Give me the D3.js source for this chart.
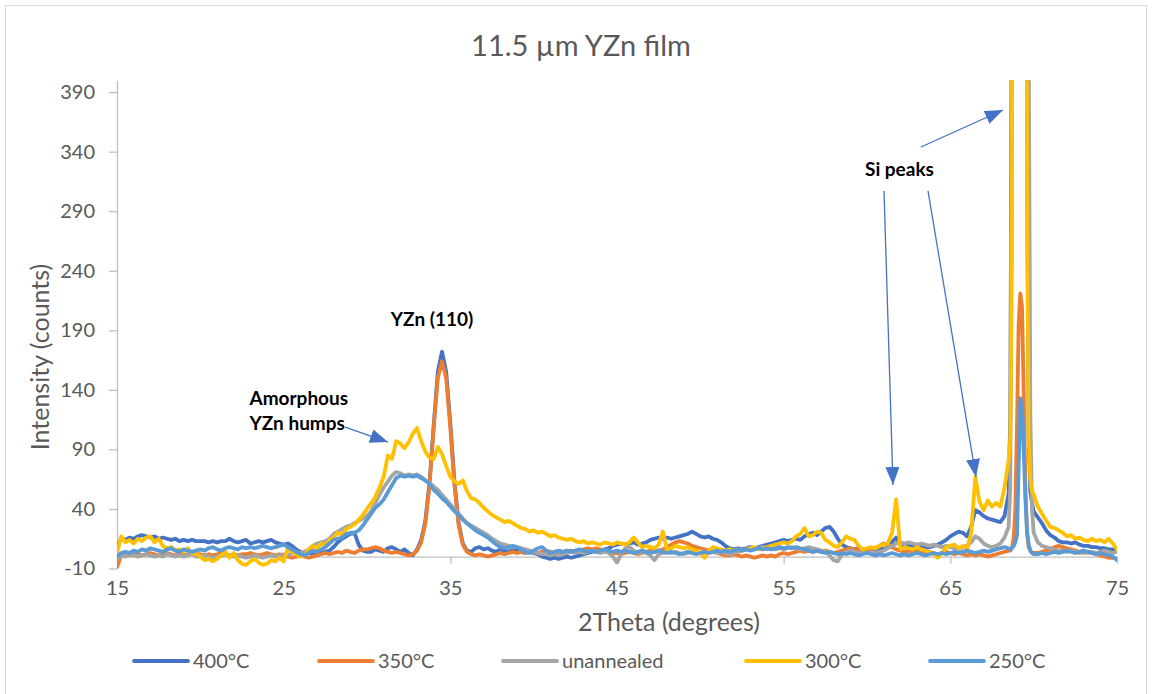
<!DOCTYPE html>
<html>
<head>
<meta charset="utf-8">
<script src="https://cdn.jsdelivr.net/npm/d3@7"></script>
<style>
  body { margin: 0; background: #fff; }
  svg { display: block; font-family: Lato, "Open Sans", sans-serif; }
</style>
</head>
<body>
<svg id="chart" width="1153" height="694"></svg>
<script>
// scan grid: 0.25 deg steps, finer around the Si (400) reflection
const twoTheta = [
  ...d3.range(15, 68.5 + 1e-9, 0.25),
  ...d3.range(68.6, 70 + 1e-9, 0.1),
  ...d3.range(70.25, 75 + 1e-9, 0.25)
].map(v => +v.toFixed(2));

const seriesNames = ["400°C", "350°C", "unannealed", "300°C", "250°C"];
const seriesColors = ["#4472C4", "#ED7D31", "#A5A5A5", "#FFC000", "#5B9BD5"];

const counts400 = [
  8, 15, 14, 16, 15, 17, 18, 17, 16, 17, 15, 16, 15, 14, 15, 13, 14, 13, 14, 13,
  13, 13, 12, 13, 12, 13, 13, 15, 13, 12, 13, 14, 11, 12, 13, 12, 13, 14, 12, 11,
  10, 11, 9, 6, 4, 3, 3, 2, 3, 3, 4, 5, 8, 12, 15, 17, 19, 20, 10, 5,
  4, 4, 6, 5, 4, 7, 8, 6, 4, 6, 3, 1, 6, 14, 30, 62, 110, 155, 172, 155,
  112, 62, 28, 11, 5, 4, 7, 8, 6, 7, 5, 4, 6, 5, 4, 6, 5, 4, 3, 4,
  3, 2, 0, -1, -2, -1, -2, -1, 0, -1, 0, 1, 2, 3, 4, 5, 4, 6, 7, 9,
  10, 11, 10, 11, 12, 10, 11, 12, 14, 15, 16, 15, 16, 15, 16, 17, 18, 19, 21, 19,
  17, 16, 17, 15, 14, 12, 9, 7, 6, 7, 6, 7, 8, 7, 8, 9, 10, 11, 12, 13,
  14, 13, 14, 15, 14, 17, 19, 20, 18, 21, 24, 25, 21, 15, 10, 8, 7, 6, 7, 6,
  5, 6, 5, 7, 6, 8, 12, 16, 10, 8, 9, 8, 9, 8, 7, 8, 9, 10, 12, 14,
  17, 19, 21, 20, 17, 25, 39, 37, 34, 32, 31, 30, 29, 34, 53,
  120, 500, 3000, 9000, 16000, 20000, 20000, 15000, 9000, 2500, 350, 100, 55, 45, 38,
  33, 28, 22, 18, 16, 13, 12, 12, 11, 12, 10, 9, 9, 8, 8, 7, 7, 6, 6, 5
];

const counts350 = [
  -9, 1, 2, 1, 3, 2, 1, 2, 3, 2, 1, 2, 3, 2, 1, 2, 1, 2, 3, 2,
  2, 1, 2, 1, 2, 3, 2, 1, 2, 1, 2, 2, 3, 2, 1, 2, 3, 2, 1, 2,
  1, 0, -1, 0, 1, 0, -1, 0, 1, 2, 3, 2, 3, 4, 3, 5, 4, 3, 5, 6,
  6, 7, 8, 7, 5, 4, 3, 4, 3, 2, 1, 2, 5, 12, 28, 60, 108, 150, 164, 150,
  108, 60, 26, 10, 4, 2, 1, 2, 1, 0, 1, 2, 3, 2, 3, 4, 3, 4, 3, 4,
  4, 3, 4, 5, 4, 3, 4, 3, 4, 5, 4, 5, 6, 7, 6, 7, 6, 5, 4, 3,
  3, 2, 3, 4, 3, 2, 3, 4, 5, 4, 5, 6, 8, 10, 12, 13, 12, 11, 9, 8,
  7, 6, 5, 4, 3, 2, 1, 1, 2, 1, 0, 1, 0, -1, 0, 1, 0, 1, 0, 2,
  3, 2, 3, 4, 5, 4, 5, 4, 5, 4, 5, 4, 3, 4, 5, 6, 7, 6, 5, 4,
  5, 6, 7, 9, 11, 10, 8, 6, 5, 4, 5, 4, 5, 4, 3, 4, 3, 2, 3, 4,
  3, 2, 3, 2, 1, 2, 1, 2, 1, 0, 1, 2, 3, 4, 5,
  5, 8, 15, 40, 110, 195, 221, 210, 140, 60, 20, 8, 5, 3, 3,
  3, 4, 5, 6, 8, 9, 8, 7, 6, 5, 4, 3, 4, 3, 2, 1, 0, -1, -1, -2
];

const countsUnannealed = [
  -2, 1, 0, 2, 1, 0, 1, 2, 1, 0, 1, 0, 2, 1, 0, 1, 0, 1, 2, 0,
  0, 1, 0, -1, 0, 1, 2, 1, 0, 1, 0, -1, 0, 1, 0, -1, 0, 1, 0, 1,
  2, 1, 3, 4, 3, 4, 6, 9, 11, 12, 13, 15, 19, 21, 23, 25, 26, 28, 30, 32,
  34, 38, 45, 52, 58, 63, 68, 71, 70, 68, 69, 68, 69, 67, 64, 62, 59, 56, 52, 48,
  44, 40, 36, 32, 28, 26, 24, 22, 20, 18, 15, 13, 11, 10, 9, 8, 8, 7, 6, 5,
  4, 3, 2, 2, 1, 2, 1, 2, 3, 4, 3, 4, 3, 4, 5, 4, 3, 4, 3, 0,
  -5, 2, 7, 8, 5, 3, 4, 3, 1, -3, 2, 3, 4, 3, 4, 3, 2, 3, 4, 3,
  3, 4, 3, 4, 3, 4, 3, 2, 3, 4, 5, 6, 7, 6, 7, 8, 6, 7, 6, 7,
  6, 7, 8, 7, 6, 7, 8, 7, 6, 5, 4, 1, -3, -4, 2, 4, 5, 4, 3, 4,
  3, 4, 3, 4, 5, 7, 9, 11, 12, 11, 12, 11, 10, 11, 10, 9, 10, 9, 8, 9,
  8, 7, 6, 8, 9, 12, 17, 15, 11, 9, 8, 9, 11, 16, 25,
  60, 600, 4000, 10000, 18000, 22000, 22000, 18000, 11000, 4000, 1500, 450, 120, 40, 20,
  12, 9, 8, 7, 6, 5, 5, 4, 5, 4, 3, 4, 3, 4, 3, 4, 5, 4, 3, 4
];

const counts300 = [
  3, 17, 12, 14, 11, 15, 13, 16, 17, 12, 15, 9, 7, 8, 5, 6, 4, 7, 3, 2,
  0, -3, -2, -4, -2, 1, 4, -1, 3, -3, -6, -7, -4, -2, -5, -7, -6, -3, -4, -1,
  -4, 7, 4, 2, 0, 1, 6, 9, 7, 11, 9, 14, 16, 20, 18, 23, 25, 27, 31, 35,
  40, 45, 50, 58, 67, 85, 82, 97, 95, 91, 96, 103, 108, 97, 88, 83, 82, 92, 86, 76,
  67, 63, 61, 64, 55, 49, 48, 45, 41, 38, 35, 33, 31, 29, 30, 28, 26, 24, 23, 21,
  22, 20, 21, 19, 17, 18, 16, 15, 14, 15, 13, 12, 13, 11, 12, 11, 10, 12, 11, 10,
  12, 11, 10, 12, 16, 12, 8, 9, 8, 7, 10, 21, 6, 7, 9, 8, 7, 8, 6, 5,
  3, -1, 4, 8, 7, 6, 5, 6, 5, 6, 5, 6, 7, 8, 6, 7, 8, 9, 10, 11,
  12, 11, 13, 17, 19, 24, 17, 18, 21, 20, 14, 12, 9, 8, 12, 17, 15, 14, 9, 6,
  7, 8, 7, 9, 10, 11, 20, 48, 6, 8, 7, 6, 8, 6, 5, 4, 2, -1, 3, 8,
  9, 10, 7, 9, 6, 20, 67, 46, 39, 47, 42, 45, 42, 58, 81,
  100, 250, 3000, 8000, 15000, 20000, 22000, 18000, 12000, 3000, 300, 100, 65, 55, 52,
  42, 36, 30, 25, 24, 22, 20, 17, 18, 15, 16, 14, 13, 15, 13, 14, 12, 15, 11, 6
];

const counts250 = [
  0, 3, 4, 3, 5, 4, 6, 5, 7, 6, 5, 4, 6, 7, 5, 4, 6, 5, 4, 5,
  6, 5, 7, 8, 6, 5, 7, 8, 7, 6, 8, 7, 8, 7, 8, 9, 8, 7, 8, 9,
  10, 8, 6, 4, 2, 1, 3, 5, 4, 6, 8, 11, 14, 15, 16, 19, 20, 20, 22, 26,
  31, 36, 41, 44, 48, 54, 60, 66, 68, 67, 68, 67, 68, 66, 64, 61, 56, 53, 49, 46,
  42, 38, 35, 31, 28, 25, 22, 20, 18, 16, 13, 10, 8, 7, 8, 9, 8, 6, 4, 3,
  5, 7, 8, 5, 3, 4, 5, 4, 5, 4, 5, 6, 5, 4, 5, 4, 5, 6, 5, 4,
  5, 4, 5, 4, 3, 4, 5, 4, 3, 4, 5, 4, 3, 4, 3, 2, 3, 4, 3, 2,
  3, 4, 3, 4, 5, 4, 5, 4, 5, 6, 5, 6, 5, 6, 7, 6, 7, 6, 7, 8,
  7, 8, 7, 8, 7, 6, 5, 4, 5, 4, 3, 4, 3, 2, 3, 2, 3, 2, 1, 2,
  3, 2, 1, 2, 1, 2, 3, 2, 1, 2, 1, 2, 3, 2, 1, 2, 3, 2, 3, 2,
  3, 4, 3, 4, 5, 4, 3, 4, 5, 4, 5, 6, 7, 8, 7,
  6, 7, 9, 12, 18, 75, 133, 125, 90, 50, 22, 10, 5, 3, 2,
  2, 3, 2, 3, 4, 3, 4, 5, 4, 3, 4, 5, 4, 3, 2, 3, 2, 1, 0, -3
];

const allCounts = [counts400, counts350, countsUnannealed, counts300, counts250];

const xTicks = [15, 25, 35, 45, 55, 65, 75];
const yTicks = [-10, 40, 90, 140, 190, 240, 290, 340, 390];

// annotations, in data units [2theta, counts]
const notes = [
  { lines: ["YZn (110)"], at: [33.9, 194], anchor: "middle" },
  { lines: ["Amorphous", "YZn humps"], at: [22.95, 127.5], anchor: "start" },
  { lines: ["Si peaks"], at: [59.88, 319.5], anchor: "start" }
];
const arrows = [
  [28.68, 108.8, 31.26, 96.2],
  [63.24, 343.9, 68.16, 375],
  [61.02, 307, 61.56, 60.1],
  [63.66, 307, 66.54, 66.8]
];

allCounts.forEach((c, i) => {
  if (c.length !== twoTheta.length) console.error(seriesNames[i], c.length, twoTheta.length);
});

const svg = d3.select("#chart");
const x = d3.scaleLinear().domain([15, 75]).range([117, 1117]);
const y = d3.scaleLinear().domain([-10, 400]).range([568.5, 80.2]);

svg.append("rect")
  .attr("x", 5.5).attr("y", 5.5)
  .attr("width", 1141).attr("height", 700)
  .attr("fill", "none").attr("stroke", "#d9d9d9");

svg.append("text")
  .attr("x", 581).attr("y", 56)
  .attr("text-anchor", "middle")
  .attr("font-size", 29).attr("fill", "#595959")
  .text("11.5 µm YZn film");

// axes
const yAxis = svg.append("g")
  .attr("transform", `translate(${x(15)},0)`)
  .call(d3.axisLeft(y).tickValues(yTicks).tickSize(8).tickSizeOuter(0).tickPadding(14)
    .tickFormat(d => String(d)));

const xAxis = svg.append("g")
  .attr("transform", `translate(0,${y(0)})`)
  .call(d3.axisBottom(x).tickValues(xTicks).tickSize(7).tickSizeOuter(0).tickFormat(""));

const xLabels = svg.append("g")
  .attr("transform", `translate(0,${y(-10)})`)
  .call(d3.axisBottom(x).tickValues(xTicks).tickSize(0).tickPadding(12)
    .tickFormat(d => String(d)));
xLabels.select(".domain").remove();

[yAxis, xAxis].forEach(g => {
  g.select(".domain").attr("stroke", "#bfbfbf").attr("stroke-width", 1.3);
  g.selectAll(".tick line").attr("stroke", "#bfbfbf").attr("stroke-width", 1.3);
});
[yAxis, xLabels].forEach(g => {
  g.attr("font-family", null).attr("font-size", null);
  g.selectAll("text").attr("fill", "#595959").attr("font-size", 20);
});

svg.append("text")
  .attr("transform", "translate(40,357) rotate(-90)")
  .attr("dy", "0.35em")
  .attr("text-anchor", "middle")
  .attr("font-size", 25).attr("fill", "#595959")
  .text("Intensity (counts)");

svg.append("text")
  .attr("x", 669).attr("y", 622)
  .attr("dy", "0.35em")
  .attr("text-anchor", "middle")
  .attr("font-size", 25).attr("fill", "#595959")
  .text("2Theta (degrees)");

// plot lines
svg.append("clipPath").attr("id", "plot-clip")
  .append("rect")
  .attr("x", x(15)).attr("y", y(400))
  .attr("width", x(75) - x(15)).attr("height", y(-10) - y(400));

const line = d3.line()
  .x((d, i) => x(twoTheta[i]))
  .y(d => y(d));

svg.append("g").attr("clip-path", "url(#plot-clip)")
  .selectAll("path")
  .data(allCounts)
  .enter()
  .append("path")
  .attr("d", line)
  .attr("fill", "none")
  .attr("stroke", (d, i) => seriesColors[i])
  .attr("stroke-width", 3.8)
  .attr("stroke-linejoin", "round")
  .attr("stroke-linecap", "round");

// annotations
svg.append("defs").append("marker")
  .attr("id", "arrowhead")
  .attr("viewBox", "0 0 18 14")
  .attr("refX", 18).attr("refY", 7)
  .attr("markerWidth", 18).attr("markerHeight", 14)
  .attr("markerUnits", "userSpaceOnUse")
  .attr("orient", "auto")
  .append("path")
  .attr("d", "M0,0L18,7L0,14Z")
  .attr("fill", "#4472C4");

svg.append("g").selectAll("line")
  .data(arrows)
  .enter()
  .append("line")
  .attr("x1", d => x(d[0])).attr("y1", d => y(d[1]))
  .attr("x2", d => x(d[2])).attr("y2", d => y(d[3]))
  .attr("stroke", "#4472C4").attr("stroke-width", 1.3)
  .attr("marker-end", "url(#arrowhead)");

notes.forEach(n => {
  const t = svg.append("text")
    .attr("x", x(n.at[0])).attr("y", y(n.at[1]))
    .attr("text-anchor", n.anchor)
    .attr("font-size", 19).attr("font-weight", "bold").attr("fill", "#000");
  n.lines.forEach((s, k) => {
    t.append("tspan").attr("x", x(n.at[0])).attr("dy", k === 0 ? 0 : 25).text(s);
  });
});

// legend
const legendX = [134, 319, 503, 746, 930];
const legend = svg.append("g").attr("transform", "translate(0,661)");
seriesNames.forEach((name, i) => {
  legend.append("line")
    .attr("x1", legendX[i]).attr("x2", legendX[i] + 54)
    .attr("stroke", seriesColors[i]).attr("stroke-width", 3.8)
    .attr("stroke-linecap", "round");
  legend.append("text")
    .attr("x", legendX[i] + 59).attr("dy", "0.35em")
    .attr("font-size", 20).attr("fill", "#595959")
    .text(name);
});
</script>
</body>
</html>
